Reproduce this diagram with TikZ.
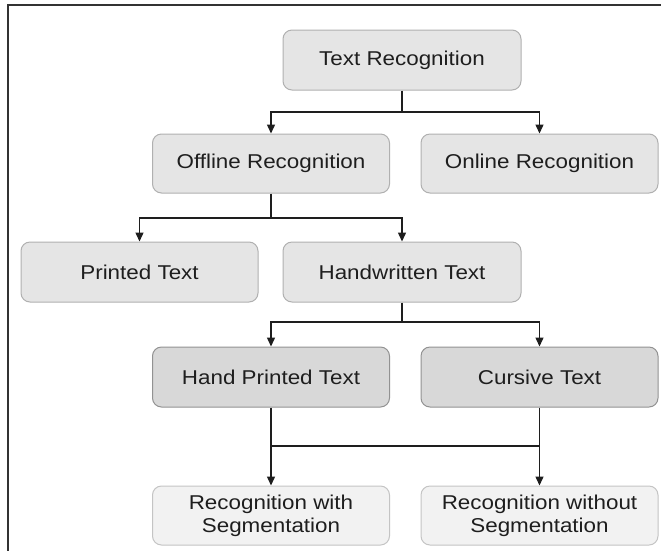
\documentclass[tikz,border=0pt]{standalone}
\usepackage{fontspec}
\setmainfont[FakeStretch=1.12]{Liberation Sans}
\usetikzlibrary{arrows.meta}
\definecolor{boxfill}{HTML}{E5E5E5}
\definecolor{boxline}{HTML}{B0B0B0}
\definecolor{darkfill}{HTML}{D8D8D8}
\definecolor{darkline}{HTML}{929292}
\definecolor{lightfill}{HTML}{F2F2F2}
\definecolor{lightline}{HTML}{C4C4C4}
\definecolor{ink}{HTML}{1E1E1E}
\definecolor{framec}{HTML}{333333}
\begin{document}
\begin{tikzpicture}[x=1pt,y=-1pt,
  box/.style={draw=boxline, fill=boxfill, rounded corners=9pt, line width=1pt,
    minimum width=237pt, minimum height=59pt, inner sep=0pt, align=center,
    text=ink, font=\fontsize{20}{23}\selectfont},
  darkbox/.style={box, draw=darkline, fill=darkfill},
  lightbox/.style={box, draw=lightline, fill=lightfill},
  conn/.style={draw=ink, line width=1.4pt},
  arr/.style={conn, -{Triangle[width=8pt,length=9pt]}}]
\useasboundingbox (0,0) rectangle (661,550);
\fill[white] (0,0) rectangle (661,550);
\draw[framec, line width=2pt] (7.5,551) -- (7.5,4.5) -- (662,4.5);

\node[box, minimum width=238pt, minimum height=60pt] (tr) at (402,60) {Text Recognition};
\node[box] (off) at (271,163.5) {Offline Recognition};
\node[box] (on) at (539.5,163.5) {Online Recognition};
\node[box, minimum height=60pt] (pt) at (139.5,272) {Printed Text};
\node[box, minimum width=238pt, minimum height=60pt] (hw) at (402,272) {Handwritten Text};
\node[darkbox, minimum height=60pt] (hp) at (271,377) {Hand Printed Text};
\node[darkbox, minimum height=60pt] (cur) at (539.5,377) {Cursive Text};
\node[lightbox] (rws) at (271,515.5) {Recognition with\\Segmentation};
\node[lightbox] (rwo) at (539.5,515.5) {Recognition without\\Segmentation};

\coordinate (j1) at (402,112);
\coordinate (j2) at (271,218);
\coordinate (j3) at (402,322);
\coordinate (j4) at (405,446);

\draw[conn] (tr.south) -- (j1);
\draw[arr] (j1) -| (off.north);
\draw[arr] (j1) -| (on.north);
\draw[conn] (off.south) -- (j2);
\draw[arr] (j2) -| (pt.north);
\draw[arr] (j2) -| (hw.north);
\draw[conn] (hw.south) -- (j3);
\draw[arr] (j3) -| (hp.north);
\draw[arr] (j3) -| (cur.north);
\draw[arr] (hp.south) -- (rws.north);
\draw[arr] (cur.south) -- (rwo.north);
\draw[conn] (hp.south |- j4) -- (cur.south |- j4);
\end{tikzpicture}
\end{document}
